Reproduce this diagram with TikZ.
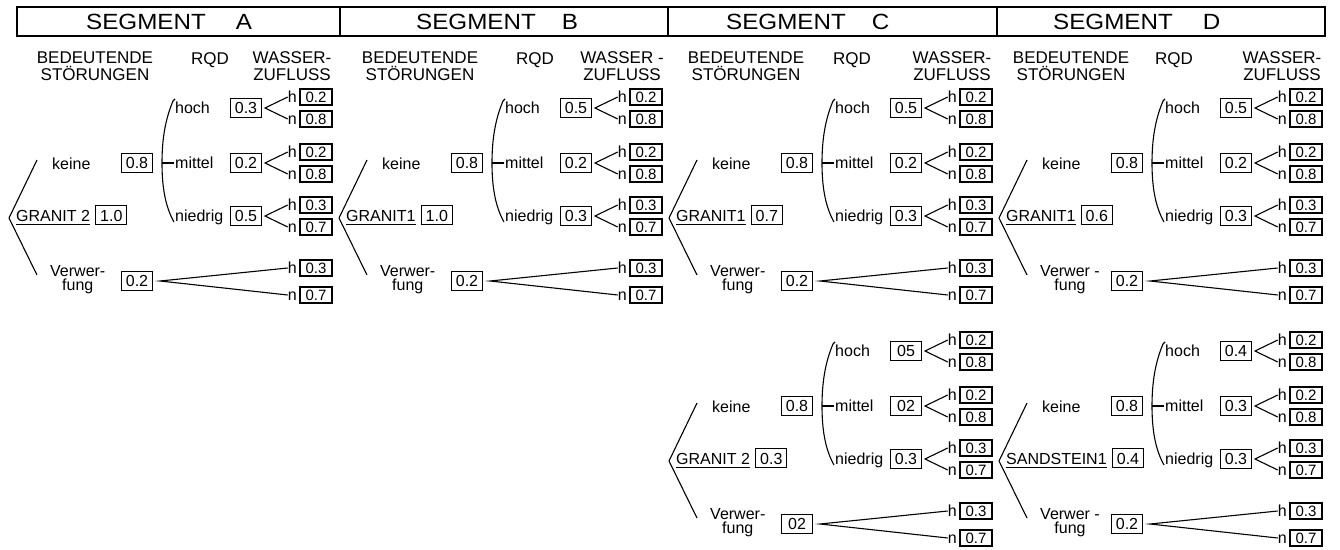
\documentclass[tikz,border=0pt]{standalone}
\usepackage{fontspec}
\setmainfont{Liberation Sans}
\newfontfamily\segfont{Liberation Sans}[FakeStretch=1.1]
\usetikzlibrary{calc}
\tikzset{
 fnt/.style={font=\fontsize{16}{14}\selectfont},
 lbl/.style={fnt, inner sep=0pt, text height=11.5pt, text depth=0pt},
 pbox/.style={draw, line width=1.2pt, fnt, inner sep=0pt, text height=11.5pt, text depth=0pt, minimum width=31pt, minimum height=19pt},
 lbox/.style={draw, line width=1.2pt, font=\fontsize{15}{15}\selectfont, inner sep=0pt, text height=11pt, text depth=0pt, minimum width=32pt, minimum height=16pt},
 hdr/.style={align=center, inner sep=0pt, font=\fontsize{17}{17}\selectfont},
 segt/.style={font=\segfont\fontsize{22}{22}\selectfont, inner sep=0pt, anchor=west},
 conn/.style={line width=1.1pt},
}
% leaf pair h / n
\newcommand\lvs[5]{%
 \node[lbl, anchor=east] (#1h) at (297,#2) {h};
 \node[lbox] (#1hb) at (316,#2) {#4};
 \node[lbl, anchor=east] (#1n) at (297,#3) {n};
 \node[lbox] (#1nb) at (316,#3) {#5};
}
% RQD row
\newcommand\rqd[6]{%
 \node[lbl, anchor=west] (#1t) at (175,#2) {#3};
 \node[pbox] (#1p) at (246,#2) {#4};
 \coordinate (#1v) at (265,#2);
 \lvs{#1}{#2-11}{#2+11}{#5}{#6}
 \draw[conn] (#1h.west) -- (#1v) -- (#1n.west);
}
% one tree
\newcommand\segtree[9]{%
\begin{scope}[shift={(#1)}]
 \coordinate (#2rv) at (9,218);
 \node[lbl, anchor=base west] (#2root) at (16,221) {#3};
 \draw[line width=1pt] ([yshift=-3pt]#2root.base west) -- ([yshift=-3pt]#2root.base east);
 \node[pbox, anchor=west] (#2rp) at ([xshift=5pt]#2root.east) {#4};
 \node[lbl, anchor=west] (#2keine) at (52,164) {keine};
 \node[pbox] (#2kp) at (137,163) {0.8};
 \node[fnt, inner sep=0pt, align=center, anchor=west] (#2verw) at (50,280) {#9\\fung};
 \node[pbox] (#2vp) at (137,281) {#8};
 \coordinate (#2ka) at (37,160);
 \coordinate (#2va) at (37,275);
 \draw[conn] (#2ka) -- (#2rv) -- (#2va);
 \rqd{#2a}{108}{hoch}{#5}{0.2}{0.8}
 \rqd{#2b}{163}{mittel}{#6}{0.2}{0.8}
 \rqd{#2c}{216}{niedrig}{#7}{0.3}{0.7}
 \coordinate (#2ct) at (173,101);
 \coordinate (#2cm) at (162,163);
 \coordinate (#2cb) at (174,222);
 \draw[conn] ([shift={(2pt,2pt)}]#2ct) -- (#2ct) .. controls (165,120) and (162,140) .. (#2cm) .. controls (162,186) and (165,206) .. (#2cb);
 \draw[conn] (#2cm) -- ([xshift=-1pt]#2bt.west);
 \coordinate (#2fv) at (160,281);
 \lvs{#2V}{268}{295}{0.3}{0.7}
 \draw[conn] (#2Vh.west) -- (#2fv) -- (#2Vn.west);
\end{scope}}
% column headers
\newcommand\colhdr[5]{%
\begin{scope}[shift={(#1,0)}]
 \node[hdr] (#2bs) at (#3,66) {BEDEUTENDE\\STÖRUNGEN};
 \node[hdr, anchor=base] (#2rqd) at (#4,64) {RQD};
 \node[hdr] (#2wz) at (292,66) {#5\\ZUFLUSS};
\end{scope}}
\begin{document}
\begin{tikzpicture}[x=1pt,y=-1pt]
\useasboundingbox (0,0) rectangle (1340,549);
% title bar
\draw[line width=1.2pt] (17,7) rectangle (1325,36);
\draw[line width=1.2pt] (340,7) -- (340,36) (668,7) -- (668,36) (997,7) -- (997,36);
\node[segt] (tA) at (86,22) {SEGMENT\hspace{30pt}A};
\node[segt] (tB) at (416,22) {SEGMENT\hspace{26pt}B};
\node[segt] (tC) at (726,22) {SEGMENT\hspace{26pt}C};
\node[segt] (tD) at (1053,22) {SEGMENT\hspace{30pt}D};
% column headers
\colhdr{0}{hA}{95}{210}{WASSER-}
\colhdr{330}{hB}{90}{205}{WASSER -}
\colhdr{660}{hC}{86}{192}{WASSER-}
\colhdr{990}{hD}{81}{184}{WASSER-}
% trees
\segtree{0,0}{A}{GRANIT 2}{1.0}{0.3}{0.2}{0.5}{0.2}{Verwer-}
\segtree{330,0}{B}{GRANIT1}{1.0}{0.5}{0.2}{0.3}{0.2}{Verwer-}
\segtree{660,0}{C}{GRANIT1}{0.7}{0.5}{0.2}{0.3}{0.2}{Verwer-}
\segtree{660,243}{E}{GRANIT 2}{0.3}{05}{02}{0.3}{02}{Verwer-}
\segtree{990,0}{D}{GRANIT1}{0.6}{0.5}{0.2}{0.3}{0.2}{Verwer -}
\segtree{990,243}{F}{SANDSTEIN1}{0.4}{0.4}{0.3}{0.3}{0.2}{Verwer -}
\end{tikzpicture}
\end{document}
